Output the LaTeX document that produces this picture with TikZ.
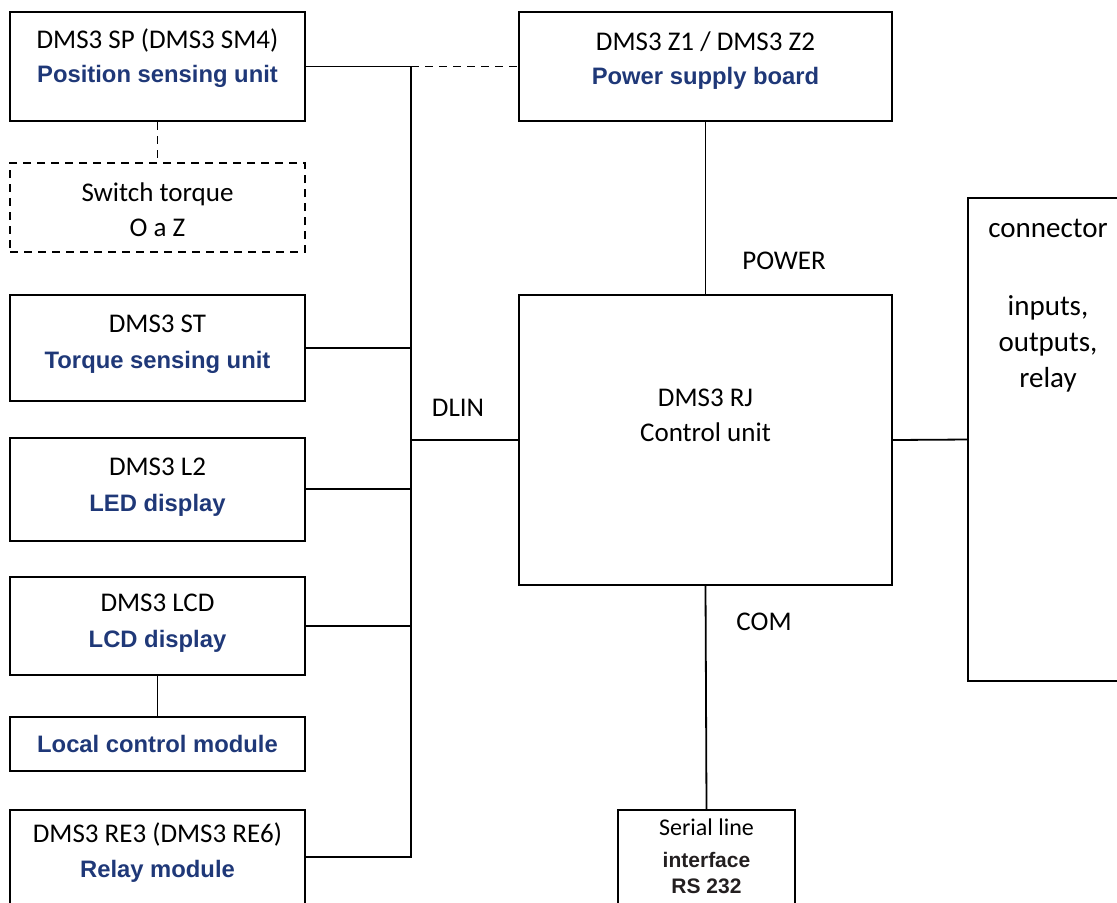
\documentclass[tikz,border=0pt]{standalone}
\usepackage{fontspec}
\setmainfont{Carlito}
\newfontfamily\arialfont{Liberation Sans}
\usetikzlibrary{positioning}
\definecolor{dmsblue}{RGB}{31,56,120}
\definecolor{darktext}{RGB}{35,31,32}
\newcommand{\bl}[1]{{\color{dmsblue}\arialfont\bfseries\fontsize{11.9pt}{14pt}\selectfont #1}}
\newcommand{\bk}[1]{{\color{darktext}\arialfont\bfseries\fontsize{10.5pt}{13pt}\selectfont #1}}

\begin{document}
\begin{tikzpicture}[x=0.5pt, y=-0.5pt,
	unit/.style={draw, line width=1pt, minimum width=147.5pt, inner sep=0pt},
	dunit/.style={unit, dash pattern=on 4pt off 3pt},
	intext/.style 2 args={label={[txt, anchor=north, yshift=-#1]north:{#2}}},
	txt/.style={font=\fontsize{13.5pt}{17.5pt}\selectfont, align=center, inner sep=0pt,
		execute at begin node=\strut},
	wire/.style={line width=0.9pt},
	dwire/.style={wire, dash pattern=on 4pt off 3pt}
]
	\clip (0,0) rectangle (1117,902);
	% left column
	\node[unit, minimum height=54.5pt, intext={8.5pt}{DMS3 SP (DMS3 SM4)\\[-0.5pt]\bl{Position sensing unit}}]
		(sp) at (157.5,66.5) {};
	\node[dunit, minimum height=44.5pt, intext={10pt}{Switch torque\\O a Z}]
		(sw) at (157.5,207.5) {};
	\node[unit, minimum height=53pt, intext={10.5pt}{DMS3 ST\\[0.5pt]\bl{Torque sensing unit}}]
		(st) at (157.5,348) {};
	\node[unit, minimum height=51.5pt, intext={10.5pt}{DMS3 L2\\[0.5pt]\bl{LED display}}]
		(led) at (157.5,489) {};
	\node[unit, minimum height=49pt, intext={9pt}{DMS3 LCD\\[0.5pt]\bl{LCD display}}]
		(lcd) at (157.5,626) {};
	\node[unit, minimum height=27pt, font=\fontsize{13.5pt}{17.5pt}\selectfont]
		(lcm) at (157.5,744) {\bl{Local control module}};
	\node[unit, minimum height=47pt, intext={6.5pt}{DMS3 RE3 (DMS3 RE6)\\\bl{Relay module}}]
		(re) at (157.5,857) {};
	% middle column
	\node[unit, minimum width=186.5pt, minimum height=54.5pt, intext={10pt}{DMS3 Z1 / DMS3 Z2\\[-0.5pt]\bl{Power supply board}}]
		(psu) at (705.5,66.5) {};
	\node[unit, minimum width=186.5pt, minimum height=145pt, intext={47.5pt}{DMS3 RJ\\Control unit}]
		(rj) at (705.5,440) {};
	\node[unit, minimum width=88.5pt, minimum height=50pt,
		label={[txt, font=\fontsize{12pt}{15pt}\selectfont, anchor=north, yshift=-4.5pt]north:{Serial line\\[1pt]\bk{interface}\\[-2pt]\bk{RS 232}}}]
		(ser) at (706.5,860) {};
	% right column
	\node[unit, minimum width=80pt, minimum height=241.5pt,
		label={[txt, font=\fontsize{14.5pt}{18pt}\selectfont, anchor=north, yshift=-11pt]north:{connector\\[21pt]inputs,\\outputs,\\relay}}]
		(con) at (1048,439.5) {};
	% bus labels
	\node[txt] (power) at (784,262) {POWER};
	\node[txt] (dlin) at (458,409) {DLIN};
	\node[txt] (com) at (764,623) {COM};
	% DLIN bus
	\coordinate (bustop) at (411,66.5);
	\coordinate (busbot) at (411,857);
	\draw[wire] (sp.east) -- (bustop) -- (busbot) -- (re.east);
	\draw[dwire] (bustop) -- (psu.west);
	\draw[dwire] (sp.south) -- (sw.north);
	\foreach \n in {st,led,lcd}
		\draw[wire] (\n.east) -- (\n.east -| bustop);
	\draw[wire] (rj.west -| bustop) -- (rj.west);
	\draw[wire] (lcd.south) -- (lcm.north);
	\draw[wire] (psu.south) -- (rj.north);
	\draw[wire] (rj.south) -- (ser.north);
	\draw[wire] (rj.east) -- (con.west);
\end{tikzpicture}
\end{document}
